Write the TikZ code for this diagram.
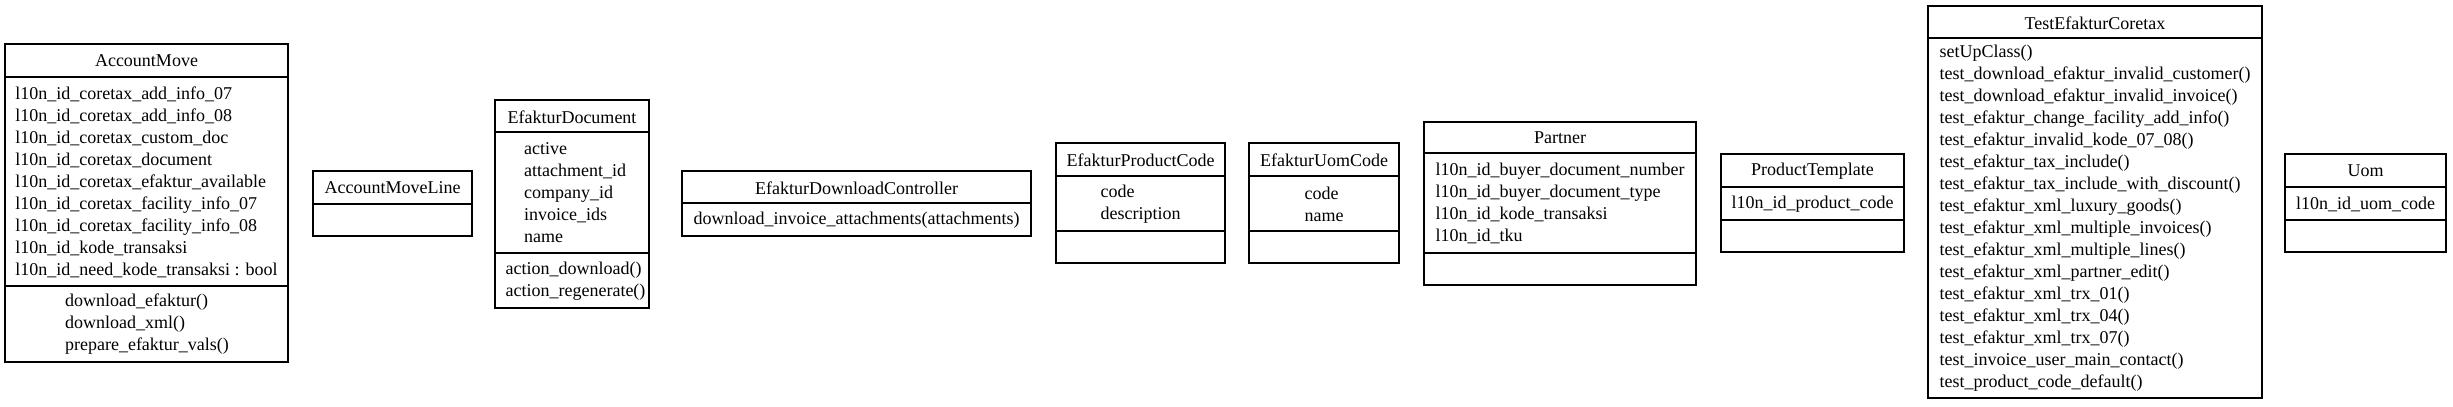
\documentclass[tikz,border=0pt]{standalone}
\usepackage{fontspec}
\setmainfont{Liberation Serif}
\begin{document}
\begin{tikzpicture}[x=0.75pt,y=-0.75pt,
  frame/.style={draw=black,line width=1pt},
  txt/.style={inner sep=0pt,align=left,font=\fontsize{13.5}{16.5}\selectfont},
]
\useasboundingbox (0,0) rectangle (2453,407);
% AccountMove
\draw[frame] (5,44) rectangle (288,362);
\draw[frame] (5,77) -- (288,77);
\draw[frame] (5,286) -- (288,286);
\node[txt] (am) at (146.5,61) {AccountMove};
\node[txt] (amA) at (146.5,182) {l10n\_id\_coretax\_add\_info\_07\\l10n\_id\_coretax\_add\_info\_08\\l10n\_id\_coretax\_custom\_doc\\l10n\_id\_coretax\_document\\l10n\_id\_coretax\_efaktur\_available\\l10n\_id\_coretax\_facility\_info\_07\\l10n\_id\_coretax\_facility\_info\_08\\l10n\_id\_kode\_transaksi\\l10n\_id\_need\_kode\_transaksi : bool};
\node[txt] (amM) at (147,324) {download\_efaktur()\\download\_xml()\\prepare\_efaktur\_vals()};
% AccountMoveLine
\draw[frame] (313,171) rectangle (472,236);
\draw[frame] (313,204) -- (472,204);
\node[txt] (aml) at (392.5,188) {AccountMoveLine};
% EfakturDocument
\draw[frame] (495,100) rectangle (649,308);
\draw[frame] (495,132) -- (649,132);
\draw[frame] (495,253) -- (649,253);
\node[txt] (ed) at (572,117) {EfakturDocument};
\node[txt] (edA) at (575,193) {active\\attachment\_id\\company\_id\\invoice\_ids\\name};
\node[txt] (edM) at (575.5,281) {action\_download()\\action\_regenerate()};
% EfakturDownloadController
\draw[frame] (682,171) rectangle (1031,236);
\draw[frame] (682,203) -- (1031,203);
\node[txt] (edc) at (856.5,188) {EfakturDownloadController};
\node[txt] (edcM) at (856.5,220) {download\_invoice\_attachments(attachments)};
% EfakturProductCode
\draw[frame] (1056,143) rectangle (1225,263);
\draw[frame] (1056,176) -- (1225,176);
\draw[frame] (1056,231) -- (1225,231);
\node[txt] (epc) at (1140.5,160) {EfakturProductCode};
\node[txt] (epcA) at (1140.5,204) {code\\description};
% EfakturUomCode
\draw[frame] (1249,143) rectangle (1399,263);
\draw[frame] (1249,176) -- (1399,176);
\draw[frame] (1249,231) -- (1399,231);
\node[txt] (euc) at (1324,160) {EfakturUomCode};
\node[txt] (eucA) at (1324,204) {code\\name};
% Partner
\draw[frame] (1424,122) rectangle (1696,285);
\draw[frame] (1424,153) -- (1696,153);
\draw[frame] (1424,253) -- (1696,253);
\node[txt] (pa) at (1560,138) {Partner};
\node[txt] (paA) at (1560,203.5) {l10n\_id\_buyer\_document\_number\\l10n\_id\_buyer\_document\_type\\l10n\_id\_kode\_transaksi\\l10n\_id\_tku};
% ProductTemplate
\draw[frame] (1721,154) rectangle (1904,252);
\draw[frame] (1721,187) -- (1904,187);
\draw[frame] (1721,220) -- (1904,220);
\node[txt] (pt) at (1812.5,171) {ProductTemplate};
\node[txt] (ptA) at (1812.5,204) {l10n\_id\_product\_code};
% TestEfakturCoretax
\draw[frame] (1928,6) rectangle (2262,398);
\draw[frame] (1928,38) -- (2262,38);
\node[txt] (tec) at (2095,23) {TestEfakturCoretax};
\node[txt] (tecM) at (2095,218.5) {setUpClass()\\test\_download\_efaktur\_invalid\_customer()\\test\_download\_efaktur\_invalid\_invoice()\\test\_efaktur\_change\_facility\_add\_info()\\test\_efaktur\_invalid\_kode\_07\_08()\\test\_efaktur\_tax\_include()\\test\_efaktur\_tax\_include\_with\_discount()\\test\_efaktur\_xml\_luxury\_goods()\\test\_efaktur\_xml\_multiple\_invoices()\\test\_efaktur\_xml\_multiple\_lines()\\test\_efaktur\_xml\_partner\_edit()\\test\_efaktur\_xml\_trx\_01()\\test\_efaktur\_xml\_trx\_04()\\test\_efaktur\_xml\_trx\_07()\\test\_invoice\_user\_main\_contact()\\test\_product\_code\_default()};
% Uom
\draw[frame] (2285,154) rectangle (2446,252);
\draw[frame] (2285,187) -- (2446,187);
\draw[frame] (2285,220) -- (2446,220);
\node[txt] (uom) at (2365.5,171) {Uom};
\node[txt] (uomA) at (2365.5,204) {l10n\_id\_uom\_code};
\end{tikzpicture}
\end{document}
